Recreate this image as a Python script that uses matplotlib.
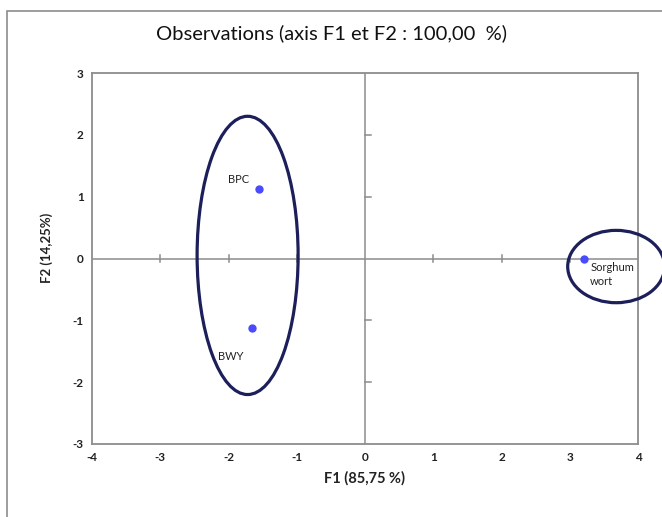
import matplotlib.pyplot as plt
from matplotlib.patches import Ellipse, Rectangle

plt.rcParams['font.family'] = ['Lato', 'DejaVu Sans']
plt.rcParams['axes.unicode_minus'] = False

# observation scores on F1 / F2
names = ['BPC', 'BWY', 'Sorghum\nwort']
f1 = [-1.56, -1.65, 3.21]
f2 = [1.13, -1.12, 0.0]

# group ellipses: centre x, centre y, width, height
groups_cx = [-1.72, 3.68]
groups_cy = [0.05, -0.13]
groups_w = [1.48, 1.42]
groups_h = [4.5, 1.17]

xticks = [-4, -3, -2, -1, 0, 1, 2, 3, 4]
yticks = [-3, -2, -1, 0, 1, 2, 3]

fig = plt.figure(figsize=(6.62, 5.17), dpi=100)
ax = fig.add_axes([92/662, 1-444/517, 546/662, 371/517])

# outer chart frame
fig.patches.append(Rectangle((7/662, -0.1), 1.1, 1-11/517+0.1, transform=fig.transFigure,
                             fill=False, edgecolor='#8c8c8c', linewidth=1.2))

ax.set_xlim(-4, 4)
ax.set_ylim(-3, 3)
ax.set_xticks(xticks)
ax.set_yticks(yticks)
ax.tick_params(length=0, labelsize=8.5, pad=6, labelcolor='#222222')
for lab in ax.get_xticklabels() + ax.get_yticklabels():
    lab.set_fontweight('bold')
for s in ax.spines.values():
    s.set_color('#8c8c8c')
    s.set_linewidth(1.3)

ax.axhline(0, color='#8c8c8c', linewidth=1.1)
ax.axvline(0, color='#8c8c8c', linewidth=1.1)
for t in xticks:
    if t not in (-4, 0, 4):
        ax.plot([t, t], [-0.06, 0.06], color='#8c8c8c', linewidth=1.1)
for t in yticks:
    if t not in (-3, 0, 3):
        ax.plot([0, 0.09], [t, t], color='#8c8c8c', linewidth=1.1)

for cx, cy, w, h in zip(groups_cx, groups_cy, groups_w, groups_h):
    ax.add_patch(Ellipse((cx, cy), w, h, fill=False, edgecolor='#1c1f5a',
                         linewidth=2.3, clip_on=False, zorder=3))

ax.plot(f1, f2, 'o', color='#4a4aff', markersize=5, zorder=4)

offsets = [(-0.45, 0.14), (-0.5, -0.47), (0.09, -0.26)]
for n, x, y, (dx, dy) in zip(names, f1, f2, offsets):
    ax.text(x + dx, y + dy, n, fontsize=8, color='#222222', va='center', ha='left',
            linespacing=1.3)

fig.text(0.5, 1-33/517, 'Observations (axis F1 et F2 : 100,00  %)', ha='center', va='center',
         fontsize=14.5, color='#111111')
fig.text(364/662, 1-478/517, 'F1 (85,75 %)', ha='center', va='center', fontsize=10.5,
         fontweight='bold', color='#222222')
fig.text(47/662, 1-248/517, 'F2 (14,25%)', ha='center', va='center', fontsize=9.5,
         fontweight='bold', color='#222222', rotation=90)

fig.savefig('out.png', dpi=100)
